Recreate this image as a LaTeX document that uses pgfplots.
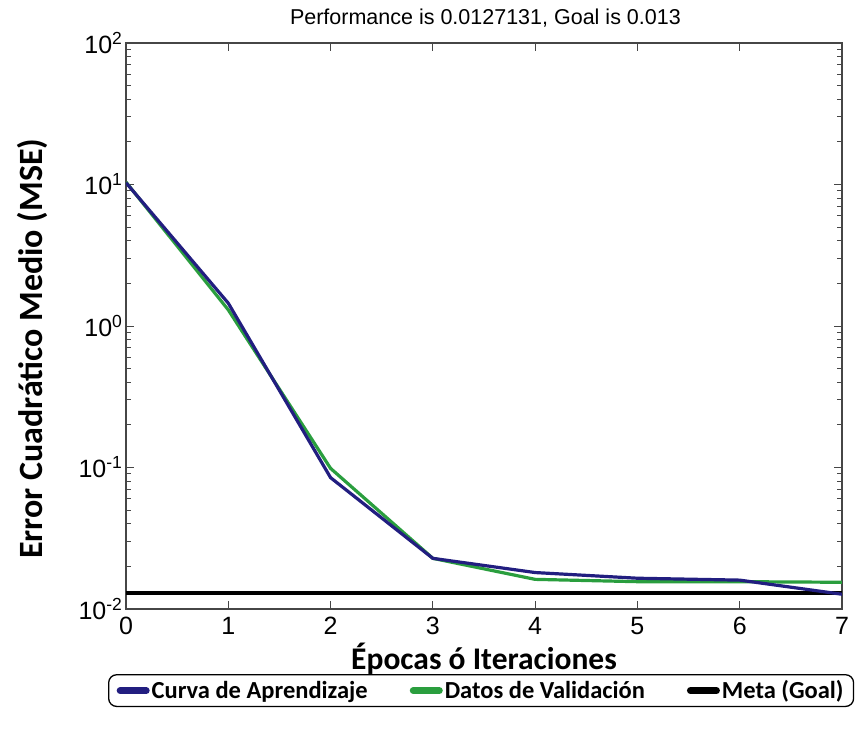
\documentclass[border=0pt]{standalone}
\usepackage{fontspec}
\setmainfont{Liberation Sans}
\newfontfamily\lblfont{Carlito}
\usepackage{pgfplots}
\pgfplotsset{compat=1.18}
\definecolor{cblue}{RGB}{34,30,128}
\definecolor{cgreen}{RGB}{42,158,62}
\definecolor{frame}{RGB}{70,70,70}
\begin{document}
\begin{tikzpicture}[x=1pt,y=1pt]
\begin{axis}[
  scale only axis, width=716pt, height=566pt,
  ymode=log, xmin=0, xmax=7, ymin=0.01, ymax=100,
  xtick={0,1,2,3,4,5,6,7},
  ytick={0.01,0.1,1,10,100},
  yticklabels={10\textsuperscript{-2},10\textsuperscript{-1},10\textsuperscript{0},10\textsuperscript{1},10\textsuperscript{2}},
  /pgf/number format/assume math mode=true,
  tick label style={font=\fontsize{25}{27}\selectfont},
  xticklabel style={yshift=-5pt},
  major tick length=8pt, minor tick length=5pt,
  axis line style={line width=1.2pt, frame},
  tick style={line width=1pt, frame},
  title={Performance is 0.0127131, Goal is 0.013},
  title style={at={(rel axis cs:0.502,1.034)}, anchor=center, font=\fontsize{21.5}{24}\selectfont},
  xlabel={Épocas ó Iteraciones},
  xlabel style={at={(rel axis cs:0.5,-0.088)}, anchor=center, font=\lblfont\bfseries\fontsize{31.5}{34}\selectfont},
  ylabel={Error Cuadrático Medio (MSE)},
  ylabel style={at={(rel axis cs:-0.13,0.46)}, anchor=center, font=\lblfont\bfseries\fontsize{34}{36}\selectfont},
  legend columns=3,
  legend style={at={(rel axis cs:0.496,-0.115)}, anchor=north, draw=black, line width=1.3pt,
    rounded corners=8pt, font=\lblfont\bfseries\fontsize{24.5}{26}\selectfont,
    inner xsep=8pt, inner ysep=4pt,
    /tikz/every even column/.append style={column sep=40pt}},
  legend cell align=left,
  legend image code/.code={\draw[#1, line width=7pt, line cap=round] (0pt,0pt) -- (26pt,0pt);},
]
\addplot[black, line width=3.5pt, forget plot] coordinates {(0,0.013) (7,0.013)};
\addplot[cgreen, line width=3.2pt, forget plot] coordinates {
(0,10.4) (1,1.30) (2,0.0986) (3,0.0228) (4,0.0162) (5,0.0156) (6,0.0156) (7,0.01545)};
\addplot[cblue, line width=3.2pt, forget plot] coordinates {
(0,10.3) (1,1.45) (2,0.0848) (3,0.0228) (4,0.0181) (5,0.0165) (6,0.0160) (7,0.0127131)};
\addlegendimage{cblue}
\addlegendentry{Curva de Aprendizaje}
\addlegendimage{cgreen}
\addlegendentry{Datos de Validación}
\addlegendimage{black}
\addlegendentry{Meta (Goal)}
\end{axis}
\pgfresetboundingbox
\path ([shift={(-126pt,-125pt)}]current axis.south west) rectangle ([shift={(731pt,609pt)}]current axis.south west);
\end{tikzpicture}
\end{document}
